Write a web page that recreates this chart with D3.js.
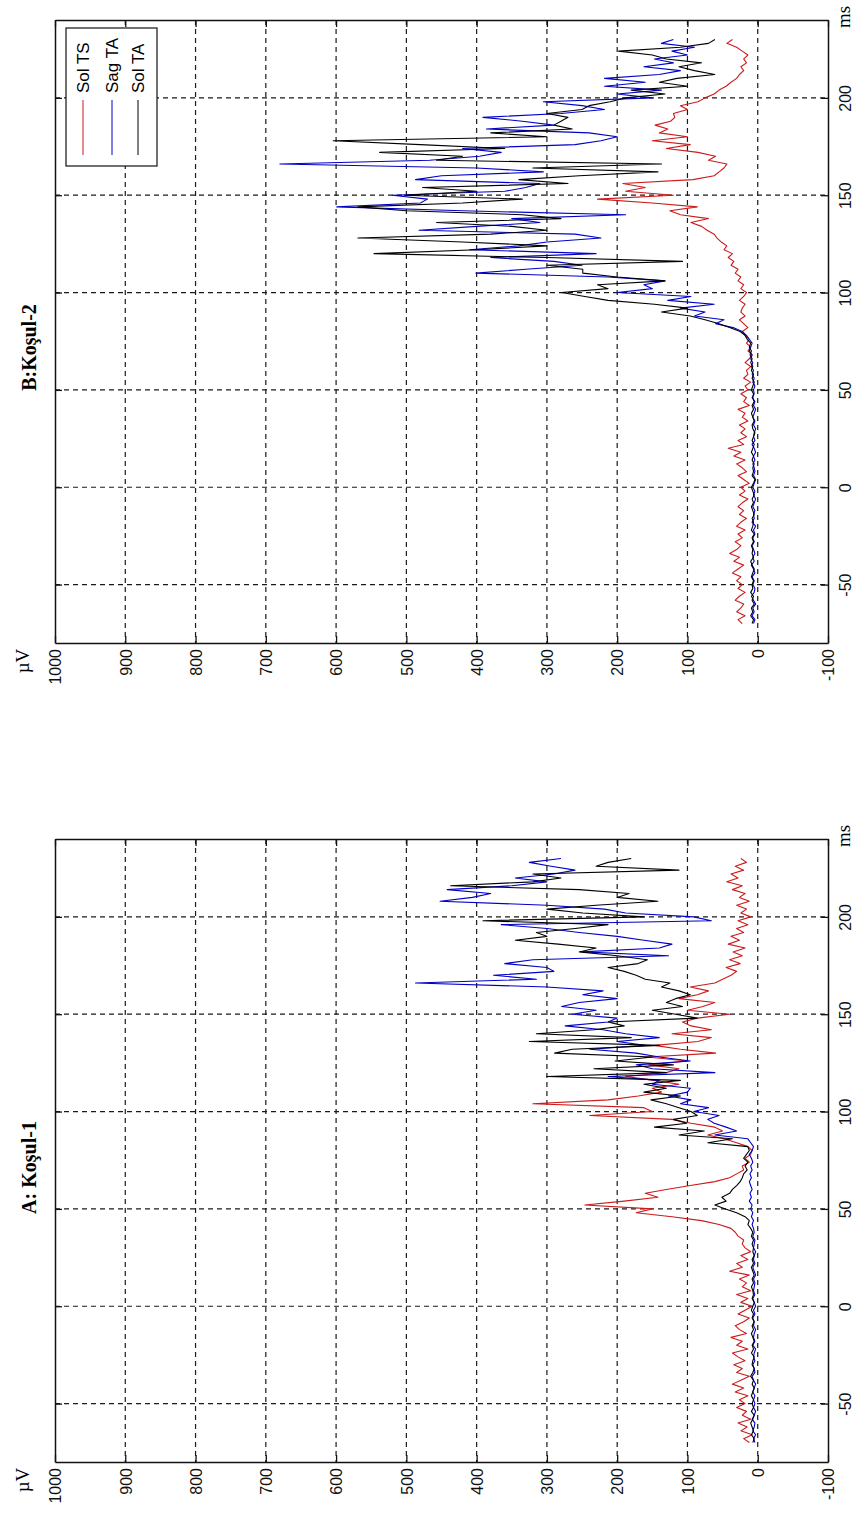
<!DOCTYPE html>
<html>
<head>
<meta charset="utf-8">
<script src="https://cdn.jsdelivr.net/npm/d3@7"></script>
<style>
body { margin: 0; background: #fff; }
svg { display: block; }
</style>
</head>
<body>
<svg id="chart" width="857" height="1516"></svg>
<script>
// sampling grid of the recordings (ms)
var timesMs = d3.range(-70, 231, 2);

// tick labels
var uvTicks = [1000, 900, 800, 700, 600, 500, 400, 300, 200, 100, 0, -100];
var msTicks = [-50, 0, 50, 100, 150, 200];

var seriesNames = ["Sol TS", "Sag TA", "Sol TA"];
var seriesColors = ["#cc1a1a", "#0000c8", "#000000"];

// A: Koşul-1 (µV)
var aSolTS = [
  12, 20, 8, 24, 15, 28, 10, 22, 16, 30, 18,
  26, 14, 32, 20, 36, 24, 12, 30, 22, 34,
  18, 28, 36, 14, 30, 22, 38, 16, 26, 32,
  20, 12, 28, 18, 8, 24, 14, 30, 10, 22,
  16, 26, 12, 40, 22, 30, 14, 24, 10, 18,
  22, 20, 28, 32, 38, 55, 80, 122, 173, 150,
  246, 190, 142, 160, 130, 96, 61, 40, 30, 20,
  22, 12, 18, 10, 8, 14, 30, 48, 71, 50,
  61, 95, 122, 239, 150, 162, 320, 213, 170, 137,
  150, 112, 147, 188, 130, 112, 155, 100, 157, 60,
  110, 147, 85, 66, 122, 66, 95, 107, 86, 40,
  100, 78, 61, 112, 86, 70, 96, 61, 50, 38,
  30, 45, 25, 40, 22, 35, 18, 42, 26, 38,
  20, 30, 14, 28, 10, 24, 16, 30, 12, 26,
  18, 36, 22, 44, 28, 38, 20, 32, 16, 24
];
var aSagTA = [
  4, 6, 3, 7, 5, 4, 8, 5, 3, 6, 4,
  6, 4, 7, 5, 3, 6, 8, 4, 5, 7,
  4, 6, 5, 3, 7, 4, 6, 5, 3, 6,
  5, 7, 4, 6, 3, 5, 7, 4, 6, 5,
  4, 6, 3, 5, 7, 4, 6, 5, 3, 6,
  5, 4, 7, 5, 6, 8, 6, 9, 7, 10,
  8, 12, 9, 11, 8, 10, 12, 9, 11, 8,
  10, 7, 9, 12, 8, 6, 10, 14, 61, 30,
  45, 62, 71, 55, 91, 70, 110, 95, 127, 100,
  96, 150, 140, 213, 61, 150, 173, 96, 140, 173,
  239, 160, 200, 140, 188, 220, 274, 213, 200, 264,
  230, 279, 254, 200, 249, 220, 300, 487, 315, 376,
  290, 300, 360, 320, 127, 250, 140, 122, 162, 200,
  254, 300, 365, 66, 91, 188, 218, 300, 452, 406,
  380, 442, 350, 300, 345, 290, 260, 294, 325, 280
];
var aSolTA = [
  7, 5, 9, 6, 8, 10, 7, 5, 9, 6, 8,
  6, 9, 7, 5, 8, 6, 10, 7, 5, 8,
  7, 5, 9, 6, 8, 5, 7, 9, 6, 8,
  5, 8, 6, 9, 7, 5, 8, 6, 7, 9,
  6, 8, 5, 7, 9, 6, 8, 5, 7, 6,
  8, 6, 9, 7, 10, 14, 12, 18, 30, 46,
  61, 45, 51, 40, 36, 30, 25, 22, 20, 15,
  18, 14, 20, 16, 12, 14, 71, 36, 112, 76,
  147, 101, 120, 86, 95, 112, 130, 152, 110, 162,
  130, 162, 110, 300, 130, 233, 120, 203, 150, 289,
  264, 140, 325, 180, 315, 233, 190, 213, 86, 117,
  150, 107, 130, 117, 96, 112, 137, 125, 160, 173,
  190, 213, 170, 157, 200, 254, 230, 284, 345, 300,
  315, 260, 213, 391, 162, 249, 300, 230, 142, 200,
  183, 254, 437, 320, 280, 320, 112, 230, 213, 180
];

// B: Koşul-2 (µV)
var bSolTS = [
  22, 28, 18, 30, 24, 20, 32, 26, 18, 28, 22,
  30, 24, 36, 28, 20, 34, 26, 40, 30, 24,
  32, 22, 28, 18, 30, 24, 16, 26, 20, 28,
  22, 14, 26, 18, 24, 12, 20, 28, 16, 22,
  30, 18, 34, 24, 42, 20, 28, 16, 24, 18,
  26, 14, 22, 18, 28, 12, 20, 16, 24, 14,
  18, 10, 20, 14, 16, 10, 18, 12, 8, 14,
  10, 16, 12, 18, 22, 14, 20, 26, 18, 24,
  22, 18, 26, 20, 16, 24, 20, 28, 24, 32,
  28, 38, 34, 42, 36, 48, 44, 52, 58, 62,
  72, 80, 95, 70, 110, 125, 86, 150, 228, 120,
  188, 160, 192, 92, 62, 55, 48, 44, 70, 60,
  85, 130, 96, 150, 100, 140, 128, 146, 124, 118,
  120, 100, 110, 85, 75, 62, 55, 45, 38, 30,
  26, 20, 24, 16, 20, 14, 22, 30, 44, 36
];
var bSagTA = [
  6, 4, 8, 5, 7, 3, 6, 9, 5, 4, 7,
  5, 8, 4, 6, 9, 5, 7, 4, 6, 8,
  5, 7, 4, 6, 3, 8, 5, 6, 4, 7,
  5, 3, 6, 4, 7, 5, 3, 6, 4, 5,
  7, 4, 6, 3, 5, 8, 4, 6, 5, 3,
  6, 4, 7, 5, 3, 6, 4, 8, 5, 6,
  4, 7, 5, 8, 6, 9, 7, 10, 8, 12,
  10, 8, 12, 16, 22, 35, 60, 48, 90, 75,
  110, 62, 128, 95, 200, 150, 162, 132, 213, 401,
  330, 250, 290, 380, 230, 410, 340, 300, 223, 260,
  482, 400, 310, 350, 188, 420, 599, 480, 470, 520,
  360, 330, 310, 487, 450, 305, 400, 680, 467, 396,
  365, 420, 260, 223, 200, 240, 386, 290, 335, 391,
  280, 218, 250, 305, 150, 200, 137, 218, 160, 218,
  140, 110, 162, 120, 147, 100, 122, 90, 137, 120
];
var bSolTA = [
  8, 6, 10, 7, 9, 5, 8, 6, 10, 7, 8,
  6, 9, 7, 5, 8, 10, 6, 8, 7, 9,
  6, 8, 5, 9, 7, 6, 8, 5, 7, 9,
  6, 8, 5, 7, 9, 6, 4, 8, 6, 7,
  5, 8, 6, 9, 7, 5, 8, 6, 4, 7,
  8, 5, 7, 9, 6, 8, 5, 7, 6, 9,
  7, 5, 8, 6, 9, 7, 10, 8, 11, 9,
  12, 10, 15, 18, 25, 40, 55, 75, 96, 137,
  100, 147, 213, 246, 279, 213, 228, 132, 200, 249,
  249, 300, 107, 300, 546, 400, 300, 420, 569, 380,
  300, 350, 457, 280, 335, 500, 569, 420, 335, 503,
  400, 477, 270, 340, 254, 142, 320, 137, 457, 420,
  538, 360, 480, 604, 300, 380, 264, 290, 280, 270,
  300, 250, 240, 210, 188, 132, 180, 100, 140, 115,
  61, 90, 112, 80, 130, 150, 198, 110, 70, 61
];

function main(){
    var svg = d3.select("#chart");
    svg.append("rect").attr("width", 857).attr("height", 1516).attr("fill", "#fff");

    // top panel is B, bottom panel is A (figure is printed rotated)
    drawPanel(svg, {top: 20, title: "B:Koşul-2", titleShift: 16,
                    series: [bSolTS, bSagTA, bSolTA], legend: true});
    drawPanel(svg, {top: 839, title: "A: Koşul-1", titleShift: 17,
                    series: [aSolTS, aSagTA, aSolTA], legend: false});
}

function drawPanel(svg, p){
    var left = 55, right = 828,
        top = p.top, bottom = p.top + 623;
    var plain = function(d){ return String(d); }; // keep "1000" and ASCII "-100"

    // µV runs right -> left, ms runs bottom -> top
    var xScale = d3.scaleLinear().domain([1000, -100]).range([left, right]);
    var yScale = d3.scaleLinear().domain([-80, 240]).range([bottom, top]);

    var g = svg.append("g");

    // dashed grid
    g.selectAll(".vgrid")
        .data(uvTicks.filter(function(d){ return d > -100 && d < 1000; }))
        .enter().append("line")
        .attr("x1", function(d){ return xScale(d); })
        .attr("x2", function(d){ return xScale(d); })
        .attr("y1", top).attr("y2", bottom)
        .attr("stroke", "#1a1a1a").attr("stroke-width", 1.2)
        .attr("stroke-dasharray", "5,4");
    g.selectAll(".hgrid")
        .data(msTicks)
        .enter().append("line")
        .attr("y1", function(d){ return yScale(d); })
        .attr("y2", function(d){ return yScale(d); })
        .attr("x1", left).attr("x2", right)
        .attr("stroke", "#1a1a1a").attr("stroke-width", 1.2)
        .attr("stroke-dasharray", "5,4");

    // box with inward ticks
    var topAxis = g.append("g").attr("transform", "translate(0," + top + ")")
        .call(d3.axisTop(xScale).tickValues(uvTicks).tickSizeInner(-7).tickSizeOuter(0).tickFormat(""));
    var leftAxis = g.append("g").attr("transform", "translate(" + left + ",0)")
        .call(d3.axisLeft(yScale).tickValues(msTicks).tickSizeInner(-7).tickSizeOuter(0).tickFormat(""));
    var bottomAxis = g.append("g").attr("transform", "translate(0," + bottom + ")")
        .call(d3.axisBottom(xScale).tickValues(uvTicks).tickSizeInner(-7).tickSizeOuter(0).tickFormat(plain));
    var rightAxis = g.append("g").attr("transform", "translate(" + right + ",0)")
        .call(d3.axisRight(yScale).tickValues(msTicks).tickSizeInner(-7).tickSizeOuter(0).tickFormat(plain));
    [topAxis, leftAxis, bottomAxis, rightAxis].forEach(function(a){
        a.select(".domain").attr("stroke-width", 1.5).attr("stroke", "#111");
        a.selectAll(".tick line").attr("stroke-width", 1.3).attr("stroke", "#111");
    });

    // rotated tick labels
    bottomAxis.selectAll(".tick text")
        .attr("x", null).attr("y", null).attr("dy", "0.36em")
        .attr("transform", "translate(0,6) rotate(-90)")
        .attr("text-anchor", "end")
        .attr("font-family", "'Liberation Sans', Arial, sans-serif")
        .attr("font-size", 16).attr("fill", "#111");
    rightAxis.selectAll(".tick text")
        .attr("x", null).attr("y", null).attr("dy", "0.36em")
        .attr("transform", "translate(17,0) rotate(-90)")
        .attr("text-anchor", "middle")
        .attr("font-family", "'Liberation Sans', Arial, sans-serif")
        .attr("font-size", 16).attr("fill", "#111");

    // traces
    var line = d3.line()
        .x(function(d){ return xScale(d[1]); })
        .y(function(d){ return yScale(d[0]); });
    p.series.forEach(function(vals, i){
        g.append("path")
            .datum(timesMs.map(function(t, j){ return [t, vals[j]]; }))
            .attr("d", line)
            .attr("fill", "none")
            .attr("stroke", seriesColors[i])
            .attr("stroke-width", 1.1)
            .attr("stroke-linejoin", "round");
    });

    // title
    g.append("text")
        .attr("transform", "translate(36," + ((top + bottom) / 2 + p.titleShift) + ") rotate(-90)")
        .attr("text-anchor", "middle")
        .attr("font-family", "'Liberation Serif', 'Times New Roman', serif")
        .attr("font-weight", "bold")
        .attr("font-size", 20)
        .text(p.title);

    // unit labels
    g.append("text")
        .attr("transform", "translate(850," + (top - 3) + ") rotate(-90)")
        .attr("text-anchor", "middle")
        .attr("font-family", "'Liberation Serif', 'Times New Roman', serif")
        .attr("font-size", 19)
        .text("ms");
    g.append("text")
        .attr("transform", "translate(29," + (bottom + 18) + ") rotate(-90)")
        .attr("text-anchor", "middle")
        .attr("font-family", "'Liberation Serif', 'Times New Roman', serif")
        .attr("font-size", 19)
        .text("µV");

    if (p.legend) {
        var lg = g.append("g");
        lg.append("rect")
            .attr("x", 66).attr("y", 28).attr("width", 91).attr("height", 138)
            .attr("fill", "#fff").attr("stroke", "#111").attr("stroke-width", 1.2);
        var lx = [83, 112, 138];
        seriesNames.forEach(function(name, i){
            lg.append("line")
                .attr("x1", lx[i]).attr("x2", lx[i]).attr("y1", 100).attr("y2", 155)
                .attr("stroke", seriesColors[i]).attr("stroke-width", 1);
            lg.append("text")
                .attr("transform", "translate(" + lx[i] + ",93) rotate(-90)")
                .attr("dy", "0.36em")
                .attr("text-anchor", "start")
                .attr("font-family", "'Liberation Sans', Arial, sans-serif")
                .attr("font-size", 17)
                .text(name);
        });
    }
}

main();
</script>
</body>
</html>
